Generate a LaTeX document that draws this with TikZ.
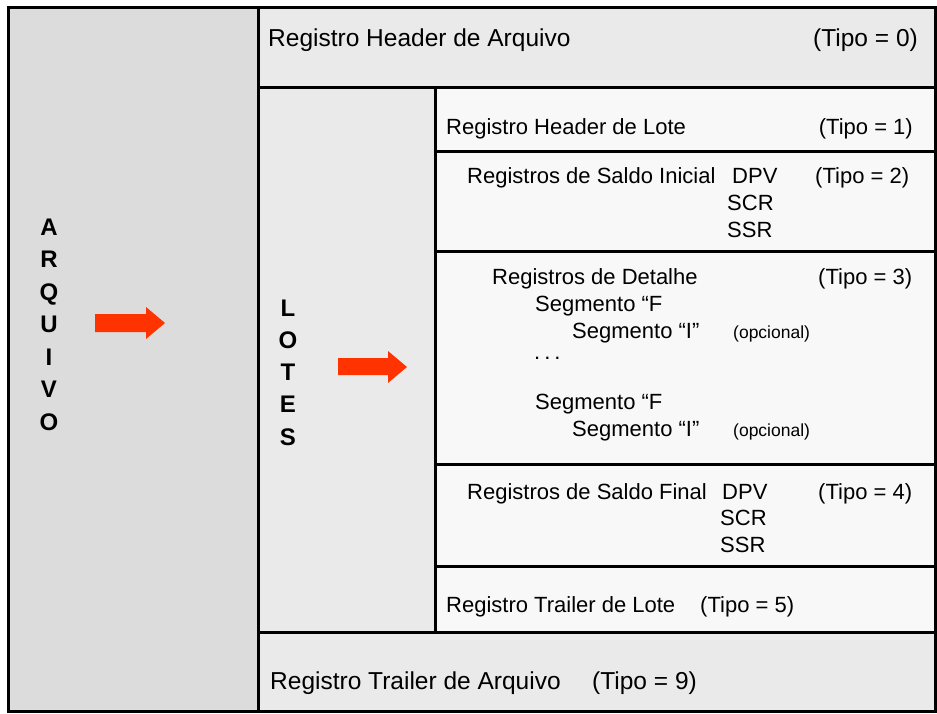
\documentclass[tikz,border=0pt]{standalone}
\usepackage{fontspec}
\setmainfont{Liberation Sans}
\definecolor{leftgray}{HTML}{DCDCDC}
\definecolor{midgray}{HTML}{EAEAEA}
\definecolor{lightgray}{HTML}{F8F8F8}
\definecolor{arrowred}{HTML}{FF3300}
\begin{document}
\begin{tikzpicture}[x=1pt,y=-1pt,
  box/.style={draw=black,line width=3pt,inner sep=0pt,outer sep=0pt},
  big/.style={font=\fontsize{24.5}{28}\selectfont,anchor=base west,inner sep=0pt},
  txt/.style={font=\fontsize{22}{26}\selectfont,anchor=base west,inner sep=0pt},
  small/.style={font=\fontsize{17.5}{20}\selectfont,anchor=base west,inner sep=0pt},
  letter/.style={font=\fontsize{24}{28}\selectfont\bfseries,anchor=base,inner sep=0pt},
  redarrow/.style={fill=arrowred}]
\useasboundingbox (0,0) rectangle (937,713);
% boxes
\node[box,fill=leftgray,minimum width=250pt,minimum height=704pt] (arq) at (133,359) {};
\node[box,fill=midgray,minimum width=677pt,minimum height=80pt] (harq) at (596.5,47) {};
\node[box,fill=midgray,minimum width=677pt,minimum height=545pt] (lotes) at (596.5,359.5) {};
\node[box,fill=midgray,minimum width=677pt,minimum height=79pt] (tarq) at (596.5,671.5) {};
\node[box,fill=lightgray,minimum width=500pt,minimum height=64pt] (hlote) at (685,119) {};
\node[box,fill=lightgray,minimum width=500pt,minimum height=100pt] (sini) at (685,201) {};
\node[box,fill=lightgray,minimum width=500pt,minimum height=213pt] (det) at (685,357.5) {};
\node[box,fill=lightgray,minimum width=500pt,minimum height=102pt] (sfin) at (685,515) {};
\node[box,fill=lightgray,minimum width=500pt,minimum height=66pt] (tlote) at (685,599) {};
% ARQUIVO letters
\foreach \l/\i in {A/0,R/1,Q/2,U/3,I/4,V/5,O/6}
  \node[letter] (arq\i) at (49,235+32.5*\i) {\l};
% LOTES letters
\foreach \l/\i in {L/0,O/1,T/2,E/3,S/4}
  \node[letter] (lot\i) at (288,316+32.3*\i) {\l};
% arrows
\fill[redarrow] (95,314) -- (146,314) -- (146,307) -- (165,323) -- (146,339) -- (146,332) -- (95,332) -- cycle;
\fill[redarrow] (338,358) -- (388,358) -- (388,351) -- (407,367) -- (388,383) -- (388,375) -- (338,375) -- cycle;
% header arquivo
\node[big] (t0a) at (268,46) {Registro Header de Arquivo};
\node[big,anchor=base east] (t0b) at (918,46) {(Tipo = 0)};
% header lote
\node[txt] (t1a) at (446,134) {Registro Header de Lote};
\node[txt,anchor=base east] (t1b) at (913,134) {(Tipo = 1)};
% saldo inicial
\node[txt] (t2a) at (467,183) {Registros de Saldo Inicial};
\node[txt] (t2d) at (732,183) {DPV};
\node[txt] (t2b) at (815,183) {(Tipo = 2)};
\node[txt] (t2s) at (727,210) {SCR};
\node[txt] (t2r) at (727,237) {SSR};
% detalhe
\node[txt] (t3a) at (492,284) {Registros de Detalhe};
\node[txt] (t3b) at (818,284) {(Tipo = 3)};
\node[txt] (t3f1) at (535,311) {Segmento “F};
\node[txt] (t3i1) at (572,338) {Segmento “I”};
\node[small] (t3o1) at (733,338) {(opcional)};
\node[txt] (t3dots) at (534,359) {.\hspace{4pt}.\hspace{4pt}.};
\node[txt] (t3f2) at (535,409) {Segmento “F};
\node[txt] (t3i2) at (572,436) {Segmento “I”};
\node[small] (t3o2) at (733,436) {(opcional)};
% saldo final
\node[txt] (t4a) at (467,499) {Registros de Saldo Final};
\node[txt] (t4d) at (722,499) {DPV};
\node[txt] (t4b) at (818,499) {(Tipo = 4)};
\node[txt] (t4s) at (720,525) {SCR};
\node[txt] (t4r) at (720,552) {SSR};
% trailer lote
\node[txt] (t5a) at (446,612) {Registro Trailer de Lote};
\node[txt] (t5b) at (700,612) {(Tipo = 5)};
% trailer arquivo
\node[big] (t9a) at (270,689) {Registro Trailer de Arquivo};
\node[big] (t9b) at (592,689) {(Tipo = 9)};
\end{tikzpicture}
\end{document}
